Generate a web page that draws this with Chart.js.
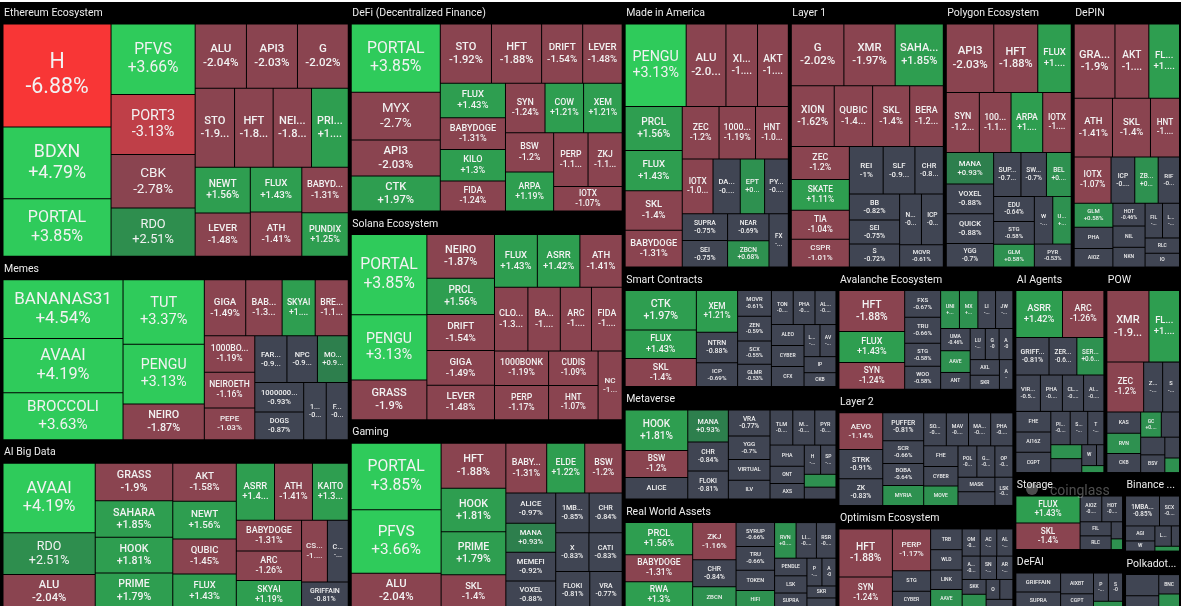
<!DOCTYPE html>
<html>
<head>
<meta charset="utf-8">
<title>Crypto sector heatmap</title>
<script src="https://cdn.jsdelivr.net/npm/chart.js@4"></script>
<style>
html, body { margin: 0; padding: 0; background: #fff; overflow: hidden; }
#map { display: block; margin-top: 2px; background: #000; }
</style>
</head>
<body>
<canvas id="map" width="1181" height="604"></canvas>
<script>
const ethNames = ['H', 'BDXN', 'PORTAL', 'PFVS', 'PORT3', 'CBK', 'RDO', 'ALU', 'API3', 'G', 'STO', 'HFT', 'NEIRO', 'PRIME', 'NEWT', 'LEVER', 'FLUX', 'ATH', 'BABYDOGE', 'PUNDIX'];
const ethChanges = [-6.88, 4.79, 3.85, 3.66, -3.13, -2.78, 2.51, -2.04, -2.03, -2.02, -1.92, -1.88, -1.87, 1.79, 1.56, -1.48, 1.43, -1.41, -1.31, 1.25];
const memeNames = ['BANANAS31', 'AVAAI', 'BROCCOLI', 'TUT', 'PENGU', 'NEIRO', 'GIGA', 'BABYDOGE', 'SKYAI', 'BRETT', '1000BONK', 'NEIROETH', 'PEPE', 'FARTCOIN', 'NPC', 'MOODENG', '1000000MOG', 'DOGS', '1000SATS', 'FLOKI'];
const memeChanges = [4.54, 4.19, 3.63, 3.37, 3.13, -1.87, -1.49, -1.31, 1.19, -1.19, -1.19, -1.16, -1.03, -0.97, -0.92, 0.93, -0.93, -0.87, -0.83, -0.81];
const aiNames = ['AVAAI', 'RDO', 'ALU', 'GRASS', 'SAHARA', 'HOOK', 'PRIME', 'AKT', 'NEWT', 'QUBIC', 'FLUX', 'ASRR', 'ATH', 'KAITO', 'BABYDOGE', 'ARC', 'SKYAI', 'CSPR', 'CHR', 'GRIFFAIN'];
const aiChanges = [4.19, 2.51, -2.04, -1.9, 1.85, 1.81, 1.79, -1.58, 1.56, -1.45, 1.43, 1.42, -1.41, 1.33, -1.31, -1.26, 1.19, -1.04, -0.84, -0.81];
const defiNames = ['PORTAL', 'MYX', 'API3', 'CTK', 'STO', 'HFT', 'DRIFT', 'LEVER', 'FLUX', 'BABYDOGE', 'KILO', 'FIDA', 'SYN', 'COW', 'XEM', 'BSW', 'ARPA', 'PERP', 'ZKJ', 'IOTX'];
const defiChanges = [3.85, -2.7, -2.03, 1.97, -1.92, -1.88, -1.54, -1.48, 1.43, -1.31, 1.3, -1.24, -1.24, 1.21, 1.21, -1.2, 1.19, -1.17, -1.16, -1.07];
const solNames = ['PORTAL', 'PENGU', 'GRASS', 'NEIRO', 'PRCL', 'DRIFT', 'GIGA', 'LEVER', 'FLUX', 'ASRR', 'ATH', 'CLOUD', 'BABYDOGE', 'ARC', 'FIDA', '1000BONK', 'PERP', 'CUDIS', 'HNT', 'NC'];
const solChanges = [3.85, 3.13, -1.9, -1.87, 1.56, -1.54, -1.49, -1.48, 1.43, 1.42, -1.41, -1.35, -1.31, -1.26, -1.24, -1.19, -1.17, -1.09, -1.07, -1.05];
const gameNames = ['PORTAL', 'PFVS', 'ALU', 'HFT', 'HOOK', 'PRIME', 'SKL', 'BABYDOGE', 'ELDE', 'BSW', 'ALICE', 'MANA', 'MEMEFI', 'VOXEL', '1MBABYDOGE', 'CHR', 'X', 'CATI', 'FLOKI', 'VRA'];
const gameChanges = [3.85, 3.66, -2.04, -1.88, 1.81, 1.79, -1.4, -1.31, 1.22, -1.2, -0.97, 0.93, -0.92, -0.88, -0.85, -0.84, -0.83, -0.83, -0.81, -0.77];
const usaNames = ['PENGU', 'ALU', 'XION', 'AKT', 'PRCL', 'FLUX', 'SKL', 'BABYDOGE', 'ZEC', '1000BONK', 'HNT', 'IOTX', 'DASH', 'EPT', 'PYTH', 'SUPRA', 'SEI', 'NEAR', 'ZBCN', 'FX'];
const usaChanges = [3.13, -2.04, -1.62, -1.58, 1.56, 1.43, -1.4, -1.31, -1.2, -1.19, -1.07, -1.05, -0.93, 0.83, -0.81, -0.75, -0.75, -0.69, 0.68, -0.64];
const l1Names = ['G', 'XMR', 'SAHARA', 'XION', 'QUBIC', 'SKL', 'BERA', 'ZEC', 'SKATE', 'TIA', 'CSPR', 'REI', 'SLF', 'CHR', 'BB', 'SEI', 'S', 'NEAR', 'ICP', 'MOVR'];
const l1Changes = [-2.02, -1.97, 1.85, -1.62, -1.45, -1.4, -1.27, -1.2, 1.11, -1.04, -1.01, -1, -0.94, -0.84, -0.82, -0.75, -0.72, -0.69, -0.69, -0.61];
const polyNames = ['API3', 'HFT', 'FLUX', 'SYN', '1000BONK', 'ARPA', 'IOTX', 'MANA', 'VOXEL', 'QUICK', 'YGG', 'SUPRA', 'SWEAT', 'BEL', 'EDU', 'STG', 'GLM', 'W', 'UNI', 'PYR'];
const polyChanges = [-2.03, -1.88, 1.43, -1.24, -1.19, 1.19, -1.07, 0.93, -0.88, -0.88, -0.7, -0.75, -0.7, 0.68, -0.64, -0.58, 0.58, -0.55, 0.55, -0.53];
const depinNames = ['GRASS', 'AKT', 'FLUX', 'ATH', 'SKL', 'HNT', 'IOTX', 'ICP', 'ZBCN', 'RIF', 'GLM', 'PHA', 'AIOZ', 'HOT', 'NIL', 'NKN', 'FIL', 'LPT', 'RLC', 'IO'];
const depinChanges = [-1.9, -1.58, 1.43, -1.41, -1.4, -1.07, -1.07, -0.69, 0.68, -0.62, 0.58, -0.52, -0.45, -0.46, -0.43, -0.4, -0.38, -0.37, -0.33, -0.3];
const smartNames = ['CTK', 'FLUX', 'SKL', 'XEM', 'NTRN', 'ICP', 'MOVR', 'ZEN', 'SCX', 'GLMR', 'TON', 'PHA', 'ALGO', 'ALEO', 'CYBER', 'CFX', 'LINK', 'AVAX', 'IP', 'CKB'];
const smartChanges = [1.97, 1.43, -1.4, 1.21, -0.88, -0.69, -0.61, -0.59, -0.55, -0.53, -0.52, -0.52, -0.5, -0.48, -0.48, -0.46, -0.36, -0.36, -0.36, -0.31];
const metaNames = ['HOOK', 'BSW', 'ALICE', 'MANA', 'CHR', 'FLOKI', 'VRA', 'YGG', 'VIRTUAL', 'ILV', 'TLM', 'MAGIC', 'PYR', 'PHA', 'ONT', 'AXS', 'H', 'SP', '', ''];
const metaChanges = [1.81, -1.2, -0.97, 0.93, -0.84, -0.81, -0.77, -0.7, -0.62, -0.56, -0.57, -0.55, -0.53, -0.52, -0.42, -0.38, -0.34, -0.32, 0.29, -0.27];
const rwaNames = ['PRCL', 'BABYDOGE', 'RWA', 'ZKJ', 'CHR', 'ZBCN', 'SYRUP', 'TRU', 'TOKEN', 'HIFI', 'RVN', 'LINK', 'RSR', 'PENDLE', 'LSK', 'SUPRA', 'PO', 'AX', 'SKR', ''];
const rwaChanges = [1.56, -1.31, 1.3, -1.16, -0.84, 0.68, -0.66, -0.66, -0.56, 0.5, 0.55, -0.52, -0.5, -0.41, -0.4, -0.36, -0.3, -0.28, -0.25, -0.22];
const avaxNames = ['HFT', 'FLUX', 'SYN', 'FXS', 'TRU', 'STG', 'WOO', 'UNI', 'MX', 'LI', 'JW', 'UMA', 'AAVE', 'ANT', 'LU', 'G', 'A', 'AXL', 'SKR', 'A'];
const avaxChanges = [-1.88, 1.43, -1.24, -0.67, -0.66, -0.58, -0.58, 0.5, 0.49, -0.47, -0.46, -0.46, 0.45, -0.35, -0.33, -0.3, -0.3, -0.32, -0.29, -0.28];
const l2Names = ['AEVO', 'STRK', 'ZK', 'PUFFER', 'SCR', 'BOBA', 'MYRIA', 'SOPH', 'MAV', 'MANTA', 'PHA', 'FHE', 'CYBER', 'MOVE', 'POL', 'GRT', 'OP', 'MASK', '', 'LSK'];
const l2Changes = [-1.14, -0.91, -0.83, -0.81, -0.66, -0.64, 0.58, -0.53, -0.52, -0.52, -0.52, -0.5, -0.48, 0.47, -0.42, -0.4, -0.4, -0.38, -0.36, -0.36];
const opNames = ['HFT', 'SYN', 'PERP', 'STG', 'CYBER', 'TRB', 'WLD', 'LINK', 'AAVE', 'OM', 'AC', 'AL', 'AXL', 'SN', 'AR', 'SKK', '', 'ONE', 'W', ''];
const opChanges = [-1.88, -1.24, -1.17, -0.58, -0.48, -0.48, -0.47, -0.45, 0.44, -0.36, -0.33, -0.32, -0.31, -0.28, -0.28, -0.26, 0.25, -0.2, -0.19, -0.18];
const agentNames = ['ASRR', 'ARC', 'GRIFFAIN', 'ZEREBRO', 'SERAPH', 'VIRTUAL', 'PHA', 'CLANKER', 'AIXBT', 'FHE', 'AI16Z', 'CGPT', 'PIPPIN', 'SWARMS', 'T', '', '', 'WLD', '', ''];
const agentChanges = [1.42, -1.26, -0.81, -0.68, 0.66, -0.58, -0.52, -0.5, -0.48, -0.47, -0.46, -0.46, -0.42, -0.38, -0.35, 0.28, -0.28, -0.2, -0.1, 0.1];
const powNames = ['XMR', 'FLUX', 'ZEC', 'ZEN', 'S', 'KAS', 'RVN', 'CKB', 'GC', '', '', 'BSV', '', ''];
const powChanges = [-1.97, 1.43, -1.2, -0.62, -0.55, -0.47, 0.45, -0.42, 0.34, -0.3, -0.28, -0.28, -0.2, 0.14];
const storNames = ['FLUX', 'SKL', 'AIOZ', 'HOT', 'FIL', 'RLC', 'T', ''];
const storChanges = [1.43, -1.4, -0.46, -0.44, -0.36, -0.35, -0.16, 0.1];
const fiNames = ['GRIFFAIN', 'SUPRA', 'AIXBT', 'CGPT', 'PR', 'SO', ''];
const fiChanges = [-0.81, -0.7, -0.65, -0.46, -0.4, -0.38, 0.2];
const bnbNames = ['1MBABYDOGE', 'SCX', 'AGI', 'W', 'LOOKS', '', ''];
const bnbChanges = [-0.85, -0.5, -0.37, -0.25, -0.28, -0.14, 0.1];
const dotNames = ['', '', 'BNC', ''];
const dotChanges = [-0.7, -0.42, -0.4, 0.3];

const sectorTable = [
    ['Ethereum Ecosystem', ethNames, ethChanges],
    ['Memes', memeNames, memeChanges],
    ['AI Big Data', aiNames, aiChanges],
    ['DeFi (Decentralized Finance)', defiNames, defiChanges],
    ['Solana Ecosystem', solNames, solChanges],
    ['Gaming', gameNames, gameChanges],
    ['Made in America', usaNames, usaChanges],
    ['Layer 1', l1Names, l1Changes],
    ['Polygon Ecosystem', polyNames, polyChanges],
    ['DePIN', depinNames, depinChanges],
    ['Smart Contracts', smartNames, smartChanges],
    ['Metaverse', metaNames, metaChanges],
    ['Real World Assets', rwaNames, rwaChanges],
    ['Avalanche Ecosystem', avaxNames, avaxChanges],
    ['Layer 2', l2Names, l2Changes],
    ['Optimism Ecosystem', opNames, opChanges],
    ['AI Agents', agentNames, agentChanges],
    ['POW', powNames, powChanges],
    ['Storage', storNames, storChanges],
    ['DeFAI', fiNames, fiChanges],
    ['Binance Ecosystem', bnbNames, bnbChanges],
    ['Polkadot Ecosystem', dotNames, dotChanges]
];

const PHI = (1 + Math.sqrt(5)) / 2;
const sum = arr => arr.reduce((a, b) => a + b, 0);

function cellColor(change) {
    if (change >= 3) return '#2fcb5b';
    if (change >= 2) return '#2e8e4e';
    if (change >= 1) return '#2e9e50';
    if (change >= 0.9) return '#2d7f4d';
    if (change > 0) return '#2e9150';
    if (change <= -5) return '#f83636';
    if (change <= -3) return '#bf3f48';
    if (change <= -1.01) return '#8a4450';
    return '#404553';
}

// squarified treemap, values are expected biggest first
function squarify(values, x0, y0, x1, y1) {
    const out = [];
    let remaining = sum(values), i0 = 0;
    while (i0 < values.length) {
        const dx = x1 - x0, dy = y1 - y0;
        let rowSum = values[i0], minV = rowSum, maxV = rowSum, i1 = i0 + 1;
        const alpha = Math.max(dy / dx, dx / dy) / (remaining * PHI);
        let beta = rowSum * rowSum * alpha;
        let minRatio = Math.max(maxV / beta, beta / minV);
        for (; i1 < values.length; i1++) {
            const v = values[i1], next = rowSum + v;
            const nMin = Math.min(minV, v), nMax = Math.max(maxV, v);
            beta = next * next * alpha;
            const ratio = Math.max(nMax / beta, beta / nMin);
            if (ratio > minRatio) break;
            rowSum = next; minV = nMin; maxV = nMax; minRatio = ratio;
        }
        if (dx < dy) {
            const h = remaining ? dy * rowSum / remaining : dy;
            let x = x0;
            for (let i = i0; i < i1; i++) {
                const w = dx * values[i] / rowSum;
                out.push({ x0: x, y0, x1: x + w, y1: y0 + h });
                x += w;
            }
            y0 += h;
        } else {
            const w = remaining ? dx * rowSum / remaining : dx;
            let y = y0;
            for (let i = i0; i < i1; i++) {
                const h = dy * values[i] / rowSum;
                out.push({ x0, y0: y, x1: x0 + w, y1: y + h });
                y += h;
            }
            x0 += w;
        }
        remaining -= rowSum;
        i0 = i1;
    }
    return out;
}

class TreemapController extends Chart.DatasetController {
    parse() {}
    update(mode) {
        const meta = this._cachedMeta;
        this.updateElements(meta.data, 0, meta.data.length, mode);
    }
    updateElements(rects, start, count, mode) {
        const xs = this._cachedMeta.xScale, ys = this._cachedMeta.yScale;
        const all = this.chart.data.datasets.map(d => sum(d.data));
        // the map runs a little past the bottom of the window and gets cut off there
        const outer = squarify(all, 1.5, 0, 1181, 608)[this.index];
        const inner = { x0: outer.x0 + 1.5, y0: outer.y0 + 22, x1: outer.x1 - 1.5, y1: outer.y1 - 1.5 };
        this._cachedMeta.headerBox = inner;
        const cells = squarify(this.getDataset().data, inner.x0, inner.y0, inner.x1, inner.y1);
        for (let i = start; i < start + count; i++) {
            const c = cells[i];
            const left = xs.getPixelForValue(c.x0), right = xs.getPixelForValue(c.x1);
            const top = ys.getPixelForValue(c.y0), bottom = ys.getPixelForValue(c.y1);
            this.updateElement(rects[i], i, {
                x: (left + right) / 2,
                y: top + 0.5,
                base: bottom - 0.5,
                width: right - left - 1,
                height: bottom - top - 1,
                horizontal: false,
                inflateAmount: 0,
                enableBorderRadius: false,
                borderSkipped: { top: false, left: false, bottom: false, right: false },
                options: this.resolveDataElementOptions(i, mode)
            }, mode);
        }
    }
}
TreemapController.id = 'treemap';
TreemapController.defaults = { dataElementType: 'bar' };
Chart.register(TreemapController);

function fitText(ctx, text, maxW) {
    if (ctx.measureText(text).width <= maxW) return text;
    for (let n = text.length - 1; n > 0; n--) {
        const t = text.slice(0, n) + '...';
        if (ctx.measureText(t).width <= maxW) return t;
    }
    for (let n = text.length - 1; n > 0; n--) {
        const t = text.slice(0, n);
        if (ctx.measureText(t).width <= maxW) return t;
    }
    return '';
}

const labelPlugin = {
    id: 'labels',
    afterDatasetsDraw(chart) {
        const ctx = chart.ctx;
        ctx.save();
        chart.data.datasets.forEach((ds, di) => {
            const meta = chart.getDatasetMeta(di);
            const box = meta.headerBox;
            ctx.textAlign = 'left';
            ctx.textBaseline = 'middle';
            ctx.fillStyle = '#ececec';
            ctx.font = '400 10.5px Roboto';
            ctx.fillText(fitText(ctx, ds.label, box.x1 - box.x0 - 4), box.x0 + 1, box.y0 - 10.5);

            ctx.textAlign = 'center';
            meta.data.forEach((rect, i) => {
                if (!ds.names[i]) return;
                const w = rect.width, h = rect.base - rect.y;
                if (h < 9 || w < 8) return;
                const size = Math.max(5, 0.205 * Math.sqrt(w * h));
                ctx.font = `${size < 12 ? 500 : 400} ${size.toFixed(1)}px Roboto`;
                ctx.fillStyle = '#f2f2f2';
                const mid = rect.y + h / 2;
                const change = ds.changes[i];
                const value = (change > 0 ? '+' : '') + change + '%';
                const room = w - 8;
                if (h < 21) {
                    ctx.fillText(fitText(ctx, ds.names[i], room), rect.x, mid);
                } else {
                    ctx.fillText(fitText(ctx, ds.names[i], room), rect.x, mid - size * 0.58);
                    ctx.fillText(fitText(ctx, value, room), rect.x, mid + size * 0.58);
                }
            });
        });
        // faint watermark over the Storage header
        ctx.textAlign = 'left';
        ctx.fillStyle = 'rgba(205,205,205,0.38)';
        ctx.font = '400 14px Roboto';
        ctx.fillText('coinglass', 1050, 489);
        ctx.beginPath();
        ctx.arc(1032, 487, 6, 0, Math.PI * 2);
        ctx.fill();
        ctx.restore();
    }
};

new Chart(document.getElementById('map'), {
    type: 'treemap',
    data: {
        datasets: sectorTable.map(([label, names, changes]) => ({
            label,
            names,
            changes,
            data: changes.map(Math.abs),
            backgroundColor: changes.map(cellColor),
            borderWidth: 0
        }))
    },
    options: {
        responsive: false,
        animation: false,
        devicePixelRatio: 1,
        layout: { padding: 0 },
        scales: {
            x: { type: 'linear', display: false, min: 0, max: 1181 },
            y: { type: 'linear', display: false, min: 0, max: 604, reverse: true }
        },
        plugins: { legend: { display: false }, tooltip: { enabled: false } }
    },
    plugins: [labelPlugin]
});
</script>
</body>
</html>
